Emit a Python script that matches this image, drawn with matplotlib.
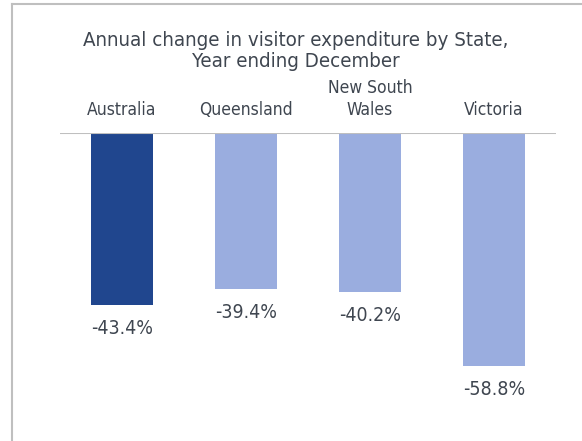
import matplotlib
matplotlib.use("Agg")
import matplotlib.pyplot as plt
from matplotlib.lines import Line2D

# ---------------------------------------------------------------------------
# Data
# ---------------------------------------------------------------------------
states = ["Australia", "Queensland", "New South\nWales", "Victoria"]
change_pct = [-43.4, -39.4, -40.2, -58.8]
bar_colors = ["#20468E", "#9AADDF", "#9AADDF", "#9AADDF"]

TEXT = "#3F4650"
W, H = 582, 441

plt.rcParams["font.family"] = ["DejaVu Sans"]
plt.rcParams["font.stretch"] = "condensed"

fig = plt.figure(figsize=(W / 100, H / 100), dpi=100)

# frame (only top and left edges fall inside the picture)
fig.add_artist(Line2D([12 / W, 12 / W], [0, 1 - 4 / H], color="#BFBFBF", lw=1.5,
                      transform=fig.transFigure))
fig.add_artist(Line2D([12 / W, 1], [1 - 4 / H, 1 - 4 / H], color="#BFBFBF", lw=1.5,
                      transform=fig.transFigure))

# axes: baseline at y=133 px, x from 60 to 556 px
ymin = -70
px_per_unit = 3.96
ax_h = -ymin * px_per_unit
ax = fig.add_axes([60 / W, 1 - (133 + ax_h) / H, 496 / W, ax_h / H])
ax.set_xlim(-0.5, len(states) - 0.5)
ax.set_ylim(ymin, 0)

x = range(len(states))
ax.bar(x, change_pct, width=0.5, color=bar_colors, zorder=2)
ax.axhline(0, color="#BFBFBF", lw=1.5, zorder=3)

for xi, v in zip(x, change_pct):
    ax.annotate(f"{v:.1f}%", (xi, v), xytext=(0, -14), textcoords="offset pixels",
                ha="center", va="top", fontsize=14, color=TEXT)

for xi, name in zip(x, states):
    ax.annotate(name, (xi, 0), xytext=(0, 14), textcoords="offset pixels",
                ha="center", va="bottom", fontsize=12.5, color=TEXT,
                linespacing=1.3)

ax.axis("off")

fig.text(296 / W, 1 - 51 / H, "Annual change in visitor expenditure by State,\nYear ending December",
         ha="center", va="center", fontsize=14.7, color=TEXT, linespacing=1.12)

fig.savefig("out.png", dpi=100)
